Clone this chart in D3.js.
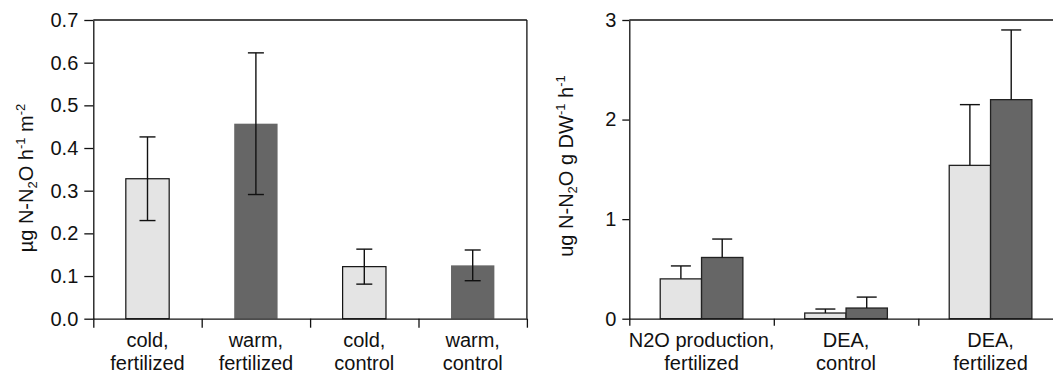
<!DOCTYPE html>
<html>
<head>
<meta charset="utf-8">
<script src="https://cdn.jsdelivr.net/npm/d3@7"></script>
<style>
  body { margin: 0; background: #fff; }
  svg text { font-family: Arial, "Liberation Sans", sans-serif; fill: #111; }
</style>
</head>
<body>
<svg id="chart" width="1053" height="377"></svg>
<script>
"use strict"

// left panel: field N2O flux
const fluxCats = [["cold,", "fertilized"], ["warm,", "fertilized"], ["cold,", "control"], ["warm,", "control"]];
const fluxMean = [0.328, 0.457, 0.122, 0.125];
const fluxErr = [0.098, 0.166, 0.041, 0.036];
const fluxShade = ["cold", "warm", "cold", "warm"];
const fluxTicks = [0, 0.1, 0.2, 0.3, 0.4, 0.5, 0.6, 0.7];

// right panel: N2O production and DEA
const potCats = [["N2O production,", "fertilized"], ["DEA,", "control"], ["DEA,", "fertilized"]];
const potCold = [0.40, 0.057, 1.54];
const potColdErr = [0.13, 0.04, 0.61];
const potWarm = [0.615, 0.107, 2.20];
const potWarmErr = [0.185, 0.11, 0.70];
const potTicks = [0, 1, 2, 3];

const colors = { cold: "#e4e4e4", warm: "#666666" };
const svg = d3.select("#chart");
const yTop = 20, yBot = 318.7;
const fs = 20;

function frame(g, x0, x1) {
    g.append("line").attr("x1", x0).attr("x2", x1).attr("y1", yTop).attr("y2", yTop)
        .attr("stroke", "#111").attr("stroke-width", 1.3);
    g.append("line").attr("x1", x1).attr("x2", x1).attr("y1", yTop).attr("y2", yBot)
        .attr("stroke", "#111").attr("stroke-width", 1.3);
}

function xAxis(g, x0, x1, n, cats, tickLen) {
    let xl = d3.scaleLinear().domain([0, n]).range([x0, x1]);
    let ax = g.append("g").attr("transform", `translate(0,${yBot})`)
        .call(d3.axisBottom(xl).tickValues(d3.range(n + 1)).tickFormat("").tickSize(tickLen).tickSizeOuter(0));
    ax.selectAll("path, line").attr("stroke", "#111").attr("stroke-width", 1.3);
    cats.forEach((c, i) => {
        let t = g.append("text").attr("text-anchor", "middle")
            .attr("x", xl(i + 0.5)).attr("y", 347).attr("font-size", fs);
        t.append("tspan").attr("x", xl(i + 0.5)).text(c[0]);
        t.append("tspan").attr("x", xl(i + 0.5)).attr("dy", 22.5).text(c[1]);
    });
}

function yAxis(g, x0, y, ticks, fmt, tickLen) {
    let ax = g.append("g").attr("transform", `translate(${x0},0)`)
        .call(d3.axisLeft(y).tickValues(ticks).tickFormat(fmt).tickSize(tickLen).tickPadding(6).tickSizeOuter(0));
    ax.selectAll("path, line").attr("stroke", "#111").attr("stroke-width", 1.3);
    ax.selectAll("text").attr("font-size", fs).attr("fill", "#111")
        .style("font-family", "Arial, 'Liberation Sans', sans-serif");
}

// ---------- left panel ----------
{
    const x0 = 93.3, x1 = 526.9;
    const g = svg.append("g");
    const x = d3.scaleBand().domain(d3.range(fluxMean.length)).range([x0, x1]).paddingInner(0.6).paddingOuter(0.3);
    const y = d3.scaleLinear().domain([0, 0.7]).range([yBot, yTop]);

    frame(g, x0, x1);

    g.selectAll("rect.bar").data(fluxMean).enter().append("rect")
        .attr("x", (d, i) => x(i)).attr("width", x.bandwidth())
        .attr("y", d => y(d)).attr("height", d => yBot - y(d))
        .attr("fill", (d, i) => colors[fluxShade[i]])
        .attr("stroke", (d, i) => fluxShade[i] == "cold" ? "#111" : "none")
        .attr("stroke-width", 1.2);

    // symmetric error bars
    fluxMean.forEach((m, i) => {
        let cx = x(i) + x.bandwidth() / 2;
        let e = fluxErr[i];
        g.append("line").attr("x1", cx).attr("x2", cx).attr("y1", y(m + e)).attr("y2", y(m - e))
            .attr("stroke", "#111").attr("stroke-width", 1.4);
        [m + e, m - e].forEach(v => {
            g.append("line").attr("x1", cx - 8).attr("x2", cx + 8).attr("y1", y(v)).attr("y2", y(v))
                .attr("stroke", "#111").attr("stroke-width", 1.4);
        });
    });

    yAxis(g, x0, y, fluxTicks, d3.format(".1f"), 9);
    xAxis(g, x0, x1, fluxMean.length, fluxCats, 9);

    let lab = g.append("text").attr("transform", `translate(33,178) rotate(-90)`)
        .attr("text-anchor", "middle").attr("font-size", fs);
    lab.append("tspan").text("µg N-N");
    lab.append("tspan").attr("font-size", 13).attr("dy", 4).text("2");
    lab.append("tspan").attr("dy", -4).text("O h");
    lab.append("tspan").attr("font-size", 13).attr("dy", -8).text("-1");
    lab.append("tspan").attr("dy", 8).text(" m");
    lab.append("tspan").attr("font-size", 13).attr("dy", -8).text("-2");
}

// ---------- right panel ----------
{
    const x0 = 629.3, x1 = 1062.8;
    const g = svg.append("g");
    const x = d3.scaleBand().domain(d3.range(potCold.length)).range([x0, x1]);
    const bw = x.bandwidth() * 0.286;
    const y = d3.scaleLinear().domain([0, 3]).range([yBot, yTop]);

    frame(g, x0, x1);

    const series = [
        { key: "cold", vals: potCold, errs: potColdErr, off: -bw },
        { key: "warm", vals: potWarm, errs: potWarmErr, off: 0 }
    ];
    series.forEach(s => {
        s.vals.forEach((v, i) => {
            let bx = x(i) + x.bandwidth() / 2 + s.off;
            g.append("rect").attr("x", bx).attr("width", bw)
                .attr("y", y(v)).attr("height", yBot - y(v))
                .attr("fill", colors[s.key]).attr("stroke", "#222").attr("stroke-width", 1.3);
            let cx = bx + bw / 2;
            let ye = y(v + s.errs[i]);
            g.append("line").attr("x1", cx).attr("x2", cx).attr("y1", y(v)).attr("y2", ye)
                .attr("stroke", "#111").attr("stroke-width", 1.4);
            g.append("line").attr("x1", cx - 10).attr("x2", cx + 10).attr("y1", ye).attr("y2", ye)
                .attr("stroke", "#111").attr("stroke-width", 1.4);
        });
    });

    yAxis(g, x0, y, potTicks, d3.format("d"), 7);
    xAxis(g, x0, x1, potCold.length, potCats, 7);

    let lab = g.append("text").attr("transform", `translate(573,166) rotate(-90)`)
        .attr("text-anchor", "middle").attr("font-size", fs);
    lab.append("tspan").text("ug N-N");
    lab.append("tspan").attr("font-size", 13).attr("dy", 4).text("2");
    lab.append("tspan").attr("dy", -4).text("O g DW");
    lab.append("tspan").attr("font-size", 13).attr("dy", -8).text("-1");
    lab.append("tspan").attr("dy", 8).text(" h");
    lab.append("tspan").attr("font-size", 13).attr("dy", -8).text("-1");
}
</script>
</body>
</html>
